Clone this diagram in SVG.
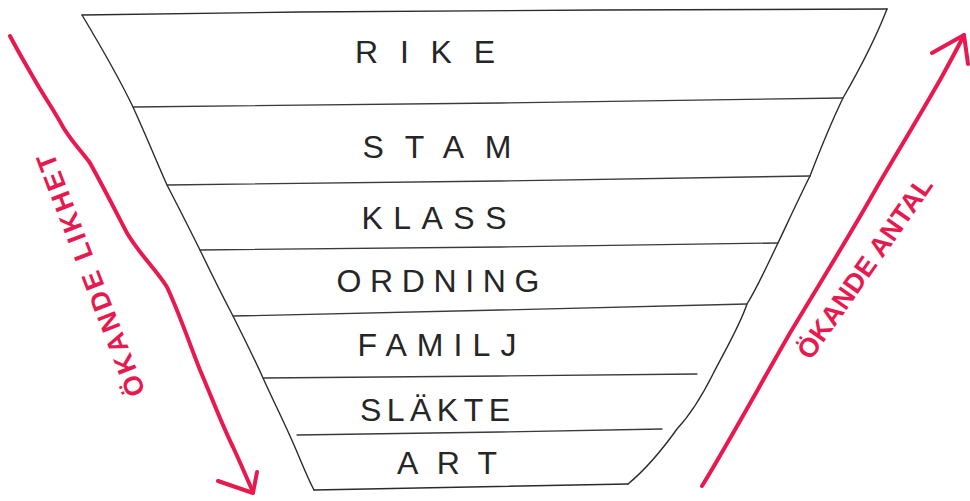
<svg xmlns="http://www.w3.org/2000/svg" width="970" height="501" viewBox="0 0 970 501">
  <defs>
    <style>
      .ink { fill: none; stroke: #2b2b2b; stroke-width: 1.4; stroke-linecap: round; stroke-linejoin: round; }
      .div { fill: none; stroke: #3a3a3a; stroke-width: 1.3; stroke-linecap: round; }
      .lbl { font-family: "Liberation Sans", Arial, sans-serif; font-size: 32px; fill: #262626; text-anchor: middle; }
      .red { fill: none; stroke: #e8194f; stroke-width: 4; stroke-linecap: round; stroke-linejoin: round; }
      .redtxt { font-family: "Liberation Sans", Arial, sans-serif; font-size: 27px; font-weight: bold; fill: #e8194f; text-anchor: middle; dominant-baseline: central; }
    </style>
  </defs>
  <rect width="970" height="501" fill="#ffffff"/>

  <g id="funnel">
    <path class="ink" d="M82,15 L300,12 L600,10 L887,9"/>
    <path class="ink" d="M82,15 C100,45 120,80 133,107 C148,140 158,165 167,185 C180,210 190,230 200,250 C212,275 222,295 233,316 C245,340 255,360 263,378 C272,398 282,418 290,436 C300,458 306,475 314,490"/>
    <path class="ink" d="M887,9 C875,40 858,72 843,98 C830,125 820,150 810,176 C798,200 788,222 778,243 C765,270 757,288 747,304 C740,325 728,345 713,374 C700,400 690,415 677,429 C662,450 645,470 628,484"/>
    <path class="ink" d="M314,490 L470,487 L628,484"/>
  </g>

  <g id="rike">
    <path class="div" d="M133,107 L500,103 L843,98"/>
    <text class="lbl" x="425" y="63" textLength="140" lengthAdjust="spacing">RIKE</text>
  </g>
  <g id="stam">
    <path class="div" d="M167,185 L500,181 L810,176"/>
    <text class="lbl" x="437" y="158" textLength="149" lengthAdjust="spacing">STAM</text>
  </g>
  <g id="klass">
    <path class="div" d="M200,250 L500,247 L778,243"/>
    <text class="lbl" x="434" y="229" textLength="145" lengthAdjust="spacing">KLASS</text>
  </g>
  <g id="ordning">
    <path class="div" d="M233,316 L500,310 L747,304"/>
    <text class="lbl" x="438" y="292" textLength="203" lengthAdjust="spacing">ORDNING</text>
  </g>
  <g id="familj">
    <path class="div" d="M263,378 L500,376 L697,374"/>
    <text class="lbl" x="437" y="356" textLength="159" lengthAdjust="spacing">FAMILJ</text>
  </g>
  <g id="slakte">
    <path class="div" d="M297,435 L500,432 L662,429"/>
    <text class="lbl" x="435" y="421" textLength="150" lengthAdjust="spacing">SLÄKTE</text>
  </g>
  <g id="art">
    <text class="lbl" x="447" y="474" textLength="100" lengthAdjust="spacing">ART</text>
  </g>

  <g id="connectors">
    <path class="red" d="M10,36 C20,55 28,68 33,77 C45,98 55,112 63,127 C72,142 82,152 90,163 C105,190 116,212 127,233 C140,255 155,268 167,287 C180,315 190,345 200,370 C212,398 222,425 233,447 C240,462 245,474 253,492"/>
    <path class="red" d="M218,481 L253,493 L257,472"/>
    <path class="red" d="M702,486 C730,440 760,385 790,333 C820,283 850,235 877,187 C900,148 920,115 940,80 C950,62 958,47 964,35"/>
    <path class="red" d="M932,53 L964,35 L968,64"/>
  </g>

  <g id="label-likhet">
    <text class="redtxt" transform="translate(91,275) rotate(-111)" textLength="258" lengthAdjust="spacing">ÖKANDE  LIKHET</text>
  </g>
  <g id="label-antal">
    <text class="redtxt" transform="translate(865,268) rotate(-55)" textLength="215" lengthAdjust="spacing">ÖKANDE  ANTAL</text>
  </g>
</svg>
